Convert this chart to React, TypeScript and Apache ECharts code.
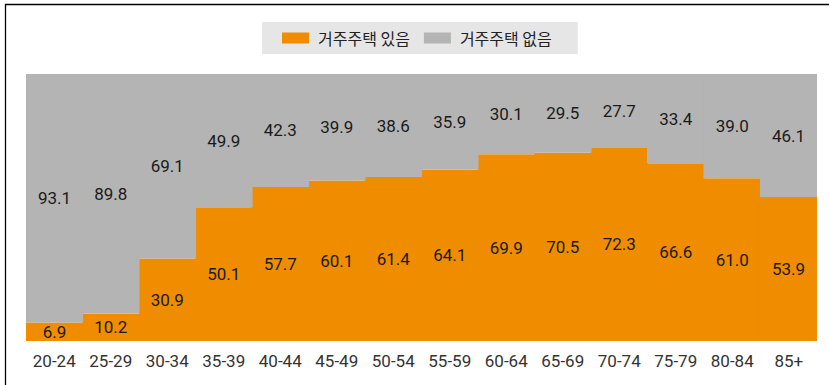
import React, { useEffect, useRef } from "react";
import * as echarts from "echarts";

const categories = ["20-24", "25-29", "30-34", "35-39", "40-44", "45-49", "50-54", "55-59", "60-64", "65-69", "70-74", "75-79", "80-84", "85+"];
const ownHouse = [6.9, 10.2, 30.9, 50.1, 57.7, 60.1, 61.4, 64.1, 69.9, 70.5, 72.3, 66.6, 61.0, 53.9];
const noHouse = [93.1, 89.8, 69.1, 49.9, 42.3, 39.9, 38.6, 35.9, 30.1, 29.5, 27.7, 33.4, 39.0, 46.1];
const seriesNames = ["거주주택 있음", "거주주택 없음"];

const ORANGE = "#F08C00";
const GRAY = "#B4B4B4";
const NUM_FONT = "Roboto, sans-serif";

export default function App() {
  const ref = useRef<HTMLDivElement>(null);
  useEffect(() => {
    if (!ref.current) return;
    const chart = echarts.init(ref.current, undefined, { renderer: "svg" });
    const labelStyle = {
      show: true,
      position: "inside" as const,
      color: "#1a1a1a",
      fontSize: 17,
      fontFamily: NUM_FONT,
      formatter: (p: any) => Number(p.value).toFixed(1),
    };
    chart.setOption({
      animation: false,
      backgroundColor: "#ffffff",
      legend: {
        left: 262,
        top: 22,
        padding: [8, 26, 8, 20],
        backgroundColor: "#E6E6E6",
        itemWidth: 27,
        itemHeight: 11,
        itemGap: 14,
        icon: "rect",
        textStyle: {
          fontSize: 16,
          color: "#222",
          fontFamily: "'Noto Sans CJK KR', sans-serif",
          padding: [0, 0, 0, 4],
        },
        data: seriesNames,
      },
      grid: { left: 26, right: 12, top: 74, bottom: 44 },
      xAxis: {
        type: "category",
        data: categories,
        axisLine: { show: false },
        axisTick: { show: false },
        axisLabel: {
          interval: 0,
          margin: 11,
          fontSize: 17,
          color: "#333",
          fontFamily: NUM_FONT,
        },
      },
      yAxis: {
        type: "value",
        min: 0,
        max: 100,
        show: false,
      },
      series: [
        {
          name: seriesNames[0],
          type: "bar",
          stack: "total",
          data: ownHouse,
          barCategoryGap: "-2%",
          itemStyle: { color: ORANGE },
          label: labelStyle,
        },
        {
          name: seriesNames[1],
          type: "bar",
          stack: "total",
          data: noHouse,
          barCategoryGap: "-2%",
          itemStyle: { color: GRAY },
          label: labelStyle,
        },
      ],
      graphic: [
        {
          type: "rect",
          silent: true,
          shape: { x: 5.5, y: 4.5, width: 1000, height: 1000 },
          style: { fill: "none", stroke: "#000", lineWidth: 1.3 },
        },
      ],
    });
    return () => chart.dispose();
  }, []);
  return (
    <div
      ref={ref}
      style={{ position: "absolute", left: 0, top: 0, width: 829, height: 385 }}
    />
  );
}
